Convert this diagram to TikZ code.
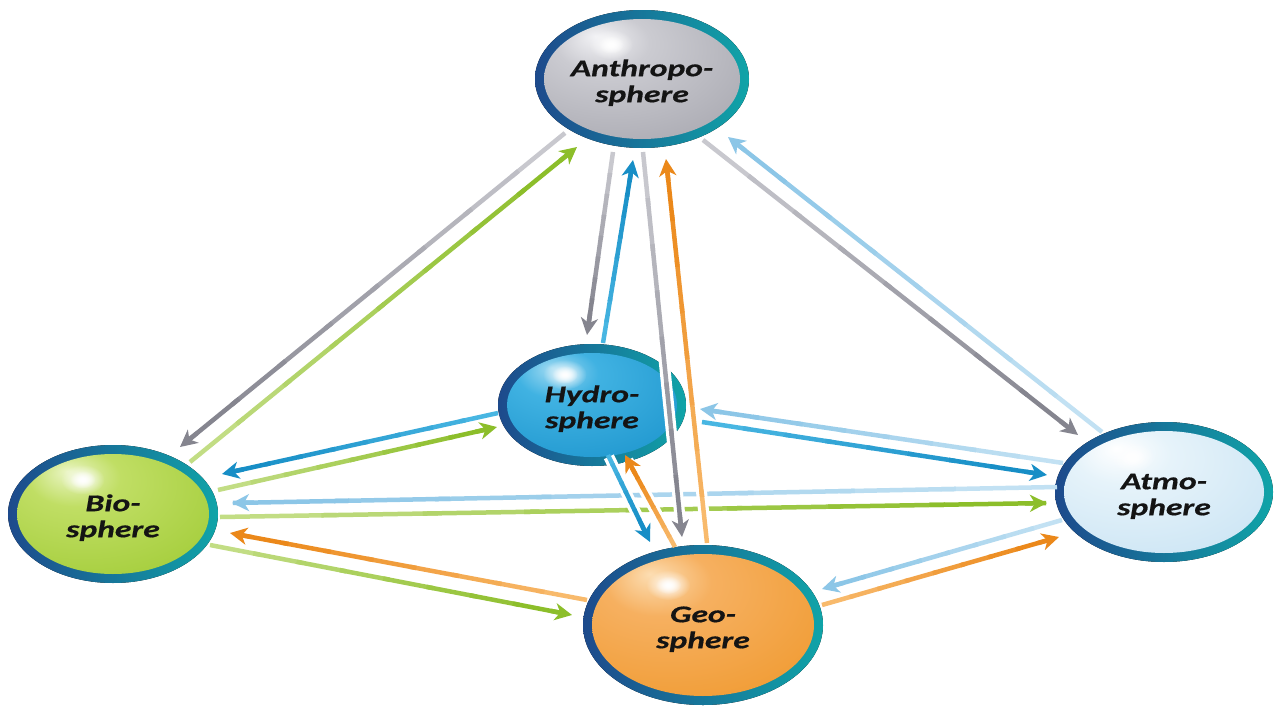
\documentclass[tikz,border=0pt]{standalone}
\usepackage{fontspec}
\newfontfamily\splab[FakeStretch=1.4, BoldItalicFeatures={FakeBold=0.6}]{Carlito}
\usetikzlibrary{arrows.meta,calc,fadings,shapes.geometric}
\tikzfading[name=softspot, inner color=transparent!0, outer color=transparent!100]
\definecolor{rimL}{HTML}{1D4A8C}
\definecolor{rimR}{HTML}{10A4A8}
\definecolor{txt}{HTML}{141414}
% sphere fills
\definecolor{anthA}{HTML}{F2F2F5}\definecolor{anthB}{HTML}{CBCBD1}\definecolor{anthC}{HTML}{A8A8B0}\definecolor{anthD}{HTML}{8A8A93}
\definecolor{hydrA}{HTML}{A0DAF2}\definecolor{hydrB}{HTML}{40B2E2}\definecolor{hydrC}{HTML}{1E96CE}\definecolor{hydrD}{HTML}{167AB2}
\definecolor{bioA}{HTML}{EAF5C4}\definecolor{bioB}{HTML}{C0DE64}\definecolor{bioC}{HTML}{A2CC38}\definecolor{bioD}{HTML}{86B226}
\definecolor{atmA}{HTML}{FFFFFF}\definecolor{atmB}{HTML}{E6F3FA}\definecolor{atmC}{HTML}{CAE4F4}\definecolor{atmD}{HTML}{A8D0EA}
\definecolor{geoA}{HTML}{FCDDB2}\definecolor{geoB}{HTML}{F6B060}\definecolor{geoC}{HTML}{F09A30}\definecolor{geoD}{HTML}{DC801A}
% arrow colours (tail, head)
\definecolor{grayT}{HTML}{C8C8CE}\definecolor{grayH}{HTML}{85858F}
\definecolor{greenT}{HTML}{C2DD84}\definecolor{greenH}{HTML}{8CBE2A}
\definecolor{blueT}{HTML}{48B6E2}\definecolor{blueH}{HTML}{178EC6}
\definecolor{lblueT}{HTML}{C2E1F3}\definecolor{lblueH}{HTML}{8CC6E7}
\definecolor{orangeT}{HTML}{F8BA6C}\definecolor{orangeH}{HTML}{EB881A}
\colorlet{sA}{white}\colorlet{sB}{white}\colorlet{sC}{white}\colorlet{sD}{white}
\pgfdeclareradialshading[sA,sB,sC,sD]{sphs}{\pgfpoint{-12bp}{18bp}}{color(0bp)=(sA);color(12bp)=(sB);color(42bp)=(sC);color(74bp)=(sD)}
\tikzset{
  spheretext/.style={ellipse, inner sep=0pt, text=txt,
    font=\splab\bfseries\itshape\fontsize{24}{26}\selectfont},
  arrowline/.style={line width=4.5pt},
  arrowhead/.style={line width=4.5pt, -{Stealth[length=17pt,width=17pt,inset=5pt]}},
  halo/.style={white, line width=11pt},
}
% sphere: name, x, y, rx, ry, colour prefix, text
\newcommand\sph[7]{%
  \fill[left color=rimL, right color=rimR] (#2,#3) ellipse ({#4} and {#5});
  \colorlet{sA}{#6A}\colorlet{sB}{#6B}\colorlet{sC}{#6C}\colorlet{sD}{#6D}%
  \shade[shading=sphs] (#2,#3) ellipse ({#4-9} and {#5-9});
  \fill[white, path fading=softspot] ({#2-0.29*#4},{#3-0.5*#5}) ellipse (22 and 15);
  \fill[white, path fading=softspot] ({#2-0.29*#4},{#3-0.5*#5}) ellipse (13 and 9);
  \node[spheretext, minimum width={2*#4}, minimum height={2*#5}] (#1) at (#2,#3)
    {\raisebox{-5pt}[\height][\depth]{\begin{tabular}{@{}c@{}}#7\end{tabular}}};
}
% connector: [halo 1/0] from, to, tail colour, head colour
\newcommand\conn[5][1]{%
  \path #2 coordinate (cs);
  \path #3 coordinate (ce);
  \path ($(ce)!16pt!(cs)$) coordinate (cm);
  \ifnum#1=1 \draw[halo] ($(cs)!2pt!(ce)$) -- ($(ce)!6pt!(cs)$);\fi
  \foreach \i in {0,...,7}{%
    \pgfmathsetmacro\ta{\i/8}\pgfmathsetmacro\tb{(\i+1.15)/8}%
    \pgfmathtruncatemacro\pc{100-\i*100/7}%
    \draw[arrowline, #4!\pc!#5] ($(cs)!\ta!(cm)$) -- ($(cs)!\tb!(cm)$);}
  \draw[arrowhead, #5] ($(ce)!22pt!(cs)$) -- (ce);
}
\begin{document}
\begin{tikzpicture}[x=1pt, y=-1pt]
\useasboundingbox (0,0) rectangle (1280,720);
\fill[white] (0,0) rectangle (1280,720);

\sph{anth}{642}{79}{107}{69}{anth}{Anthropo-\\sphere}
\sph{hydro}{592}{405}{94}{61}{hydr}{Hydro-\\sphere}
\sph{bio}{113}{514}{105}{69}{bio}{Bio-\\sphere}
\sph{atmo}{1164}{492}{109}{70}{atm}{Atmo-\\sphere}
\sph{geo}{703}{625}{120}{80}{geo}{Geo-\\sphere}

% long horizontal pair, drawn first (others cross over them)
\conn[0]{($(atmo.center)+(-107,-5)$)}{($(bio.center)+(119,-11)$)}{lblueT}{lblueH}
\conn[0]{($(bio.center)+(107,3)$)}{($(atmo.center)+(-117,11)$)}{greenT}{greenH}

% Anthroposphere <-> Biosphere
\conn{($(anth.center)+(-77,54)$)}{($(bio.center)+(67,-67)$)}{grayT}{grayH}
\conn{($(bio.center)+(77,-52)$)}{($(anth.center)+(-65,68)$)}{greenT}{greenH}
% Anthroposphere <-> Atmosphere
\conn{($(anth.center)+(61,61)$)}{($(atmo.center)+(-86,-57)$)}{grayT}{grayH}
\conn{($(atmo.center)+(-62,-60)$)}{($(anth.center)+(86,58)$)}{lblueT}{lblueH}
% Hydrosphere <-> Biosphere
\conn{($(hydro.center)+(-94,8)$)}{($(bio.center)+(109,-40)$)}{blueT}{blueH}
\conn{($(bio.center)+(105,-24)$)}{($(hydro.center)+(-95,22)$)}{greenT}{greenH}
% Hydrosphere <-> Atmosphere
\conn{($(hydro.center)+(110,17)$)}{($(atmo.center)+(-117,-17)$)}{blueT}{blueH}
\conn{($(atmo.center)+(-101,-29)$)}{($(hydro.center)+(108,4)$)}{lblueT}{lblueH}
% Geosphere <-> Biosphere
\conn{($(geo.center)+(-116,-25)$)}{($(bio.center)+(117,19)$)}{orangeT}{orangeH}
\conn{($(bio.center)+(97,31)$)}{($(geo.center)+(-131,-10)$)}{greenT}{greenH}
% Geosphere <-> Atmosphere
\conn{($(atmo.center)+(-102,28)$)}{($(geo.center)+(119,-36)$)}{lblueT}{lblueH}
\conn{($(geo.center)+(119,-20)$)}{($(atmo.center)+(-105,45)$)}{orangeT}{orangeH}
% Hydrosphere <-> Geosphere
\conn{($(hydro.center)+(16,50)$)}{($(geo.center)+(-53,-83)$)}{blueT}{blueH}
\conn{($(geo.center)+(-28,-78)$)}{($(hydro.center)+(33,50)$)}{orangeT}{orangeH}
% Anthroposphere <-> Hydrosphere
\conn{($(anth.center)+(-29,73)$)}{($(hydro.center)+(-5,-70)$)}{grayT}{grayH}
\conn{($(hydro.center)+(11,-62)$)}{($(anth.center)+(-9,81)$)}{blueT}{blueH}
% Anthroposphere <-> Geosphere
\conn{($(anth.center)+(1,73)$)}{($(geo.center)+(-21,-88)$)}{grayT}{grayH}
\conn{($(geo.center)+(4,-82)$)}{($(anth.center)+(24,80)$)}{orangeT}{orangeH}
\end{tikzpicture}
\end{document}
